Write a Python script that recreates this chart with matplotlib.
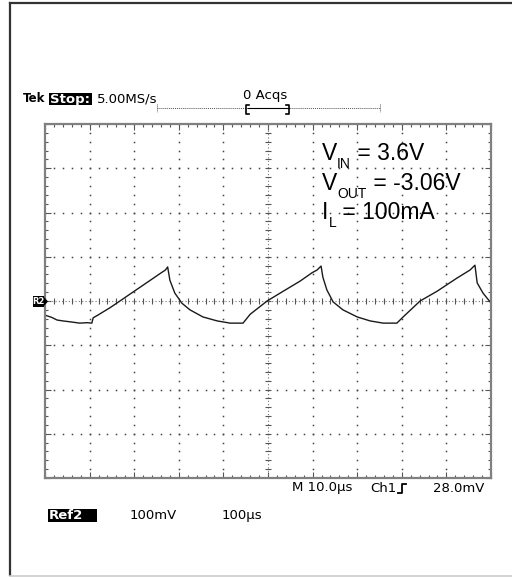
import matplotlib
matplotlib.use("Agg")
import matplotlib.pyplot as plt
import numpy as np
from matplotlib.patches import Rectangle, Polygon

# trace: time in us, level in mV (100 mV/div, 0 at centre)
time_us = [0.0, 1.5, 2.7, 4.0, 5.6, 7.8, 9.5, 10.5, 10.8, 12.0, 14.6, 16.8, 19.7,
           22.9, 25.8, 27.0, 27.5, 28.0, 29.1, 30.7, 32.5, 35.4, 38.6, 41.5, 44.4,
           46.0, 49.8, 53.4, 57.2, 59.9, 61.0, 61.9, 62.3, 63.2, 64.6, 66.8, 70.0,
           72.9, 75.8, 78.9, 80.3, 84.1, 87.9, 92.4, 95.3, 96.4, 96.9, 98.2, 99.8]
level_mv = [-32, -37, -43, -45, -47, -50, -49, -50, -38, -31, -15, 0, 20,
            42, 62, 70, 77, 47, 18, -5, -20, -36, -45, -50, -50,
            -30, 0, 22, 45, 64, 70, 79, 54, 25, -2, -20, -36,
            -45, -50, -50, -36, 0, 22, 52, 70, 81, 41, 18, -2]

x_divs = 10
y_divs = 8
us_per_div = 10.0
mv_per_div = 100.0

header_left = "5.00MS/s"
acq_label = "0 Acqs"
trigger_label = ["M 10.0\u00b5s", "Ch1", "28.0mV"]
ref_labels = ["Ref2", "100mV", "100\u00b5s"]
# (symbol, subscript, rest)
notes = [("V", "IN", " = 3.6V"), ("V", "OUT", " = -3.06V"), ("I", "L", " = 100mA")]

W, H = 512, 577
fig = plt.figure(figsize=(W / 100, H / 100), dpi=100)
fig.patch.set_facecolor("white")

# scope graticule
x0, y0, x1, y1 = 45, 124, 491, 478
ax = fig.add_axes([x0 / W, 1 - y1 / H, (x1 - x0) / W, (y1 - y0) / H])
xmax = x_divs * us_per_div
ymax = y_divs / 2 * mv_per_div
ax.set_xlim(0, xmax)
ax.set_ylim(-ymax, ymax)
for s in ax.spines.values():
    s.set_color("#808080")
    s.set_linewidth(1.6)
ax.set_xticks(np.arange(0, xmax + 1, us_per_div))
ax.set_yticks(np.arange(-ymax, ymax + 1, mv_per_div))
ax.set_xticks(np.arange(0, xmax + 1, us_per_div / 5), minor=True)
ax.set_yticks(np.arange(-ymax, ymax + 1, mv_per_div / 5), minor=True)
ax.tick_params(which="both", direction="in", top=True, right=True,
               labelbottom=False, labelleft=False, color="#555555", width=0.8)
ax.tick_params(which="major", length=4)
ax.tick_params(which="minor", length=2.5)

gx_minor = np.arange(0, xmax + 0.01, us_per_div / 5)
gy_minor = np.arange(-ymax, ymax + 0.01, mv_per_div / 5)
for gx in np.arange(us_per_div, xmax, us_per_div):
    if abs(gx - xmax / 2) < 1e-6:
        continue
    ax.plot(np.full_like(gy_minor, gx), gy_minor, ls="none", marker="s",
            ms=1.1, mew=0, color="#444444")
for gy in np.arange(-ymax + mv_per_div, ymax, mv_per_div):
    if abs(gy) < 1e-6:
        continue
    ax.plot(gx_minor, np.full_like(gx_minor, gy), ls="none", marker="s",
            ms=1.1, mew=0, color="#444444")

# centre crosshair with small ticks
ax.axhline(0, color="#777777", lw=0.8, ls=(0, (1, 2)))
ax.axvline(xmax / 2, color="#777777", lw=0.8, ls=(0, (1, 2)))
ax.plot(gx_minor, np.zeros_like(gx_minor), ls="none", marker="|", ms=4,
        mew=0.8, color="#555555")
ax.plot(np.full_like(gy_minor, xmax / 2), gy_minor, ls="none", marker="_", ms=4,
        mew=0.8, color="#555555")

ax.plot(time_us, level_mv, color="#1a1a1a", lw=1.0, solid_joinstyle="round")

# overlay in pixel coordinates for the screen furniture
ov = fig.add_axes([0, 0, 1, 1], zorder=-1)
ov.set_xlim(0, W)
ov.set_ylim(H, 0)
ov.axis("off")
ov.plot([9.5, 9.5], [2.5, 575], color="#333333", lw=1.6)
ov.plot([9.5, W], [2.5, 2.5], color="#333333", lw=1.6)
ov.plot([9.5, W], [575.5, 575.5], color="#cccccc", lw=1.2)

top = fig.add_axes([0, 0, 1, 1], zorder=3)
top.set_xlim(0, W)
top.set_ylim(H, 0)
top.axis("off")

# operating conditions, subscripts dropped well below the baseline
sans = "Liberation Sans"
for i, (sym, sub, rest) in enumerate(notes):
    base = 160 + i * 29.5
    t1 = top.text(322, base, sym, fontsize=16.5, family=sans, va="baseline")
    t2 = top.annotate(sub, xy=(1, base + 8), xycoords=(t1, "data"),
                      fontsize=10, family=sans, va="baseline", ha="left")
    top.annotate(rest, xy=(1, base), xycoords=(t2, "data"),
                 fontsize=16.5, family=sans, va="baseline", ha="left")

mono = "DejaVu Sans"
fs = 9.5
top.text(23, 99, "Tek", fontsize=8.5, family=mono, weight="bold", va="center")
top.add_patch(Rectangle((49, 93), 43, 12, facecolor="black", edgecolor="none"))
top.text(50, 99, "Stop:", fontsize=fs, family=mono, weight="bold", va="center",
         color="white")
top.text(97, 99, header_left, fontsize=fs, family=mono, va="center")
top.text(243, 96, acq_label, fontsize=fs, family=mono, va="center")
# record length bar with bracket
top.plot([157, 380], [108, 108], color="#555555", lw=0.7, ls=(0, (1, 1)))
top.plot([157, 157], [104, 112], color="#555555", lw=0.7, ls=(0, (1, 1)))
top.plot([380, 380], [104, 112], color="#555555", lw=0.7, ls=(0, (1, 1)))
top.plot([248, 289], [108, 108], color="black", lw=0.8)
top.plot([249, 246, 246, 249], [105, 105, 114, 114], color="black", lw=1.2)
top.plot([286, 289, 289, 286], [105, 105, 114, 114], color="black", lw=1.2)

# R2 marker
top.add_patch(Rectangle((33, 296), 11, 11, facecolor="black", edgecolor="none"))
top.add_patch(Polygon([[44, 297], [48, 301.5], [44, 306]], closed=True,
                      facecolor="black", edgecolor="none"))
top.text(38.5, 301.5, "R2", fontsize=6, family=mono, weight="bold", color="white",
         ha="center", va="center")

# trigger line below graticule
top.text(292, 488, trigger_label[0], fontsize=fs, family=mono, va="center")
top.text(370, 488, trigger_label[1], fontsize=fs, family=mono, va="center")
top.plot([398, 402, 402, 406], [493, 493, 484, 484], color="black", lw=1.3)
top.text(433, 488, trigger_label[2], fontsize=fs, family=mono, va="center")

top.add_patch(Rectangle((48, 509), 49, 13, facecolor="black", edgecolor="none"))
top.text(49, 515.5, ref_labels[0], fontsize=fs, family=mono, weight="bold",
         color="white", va="center")
top.text(130, 515.5, ref_labels[1], fontsize=fs, family=mono, va="center")
top.text(222, 515.5, ref_labels[2], fontsize=fs, family=mono, va="center")

fig.savefig("out.png", dpi=100)
